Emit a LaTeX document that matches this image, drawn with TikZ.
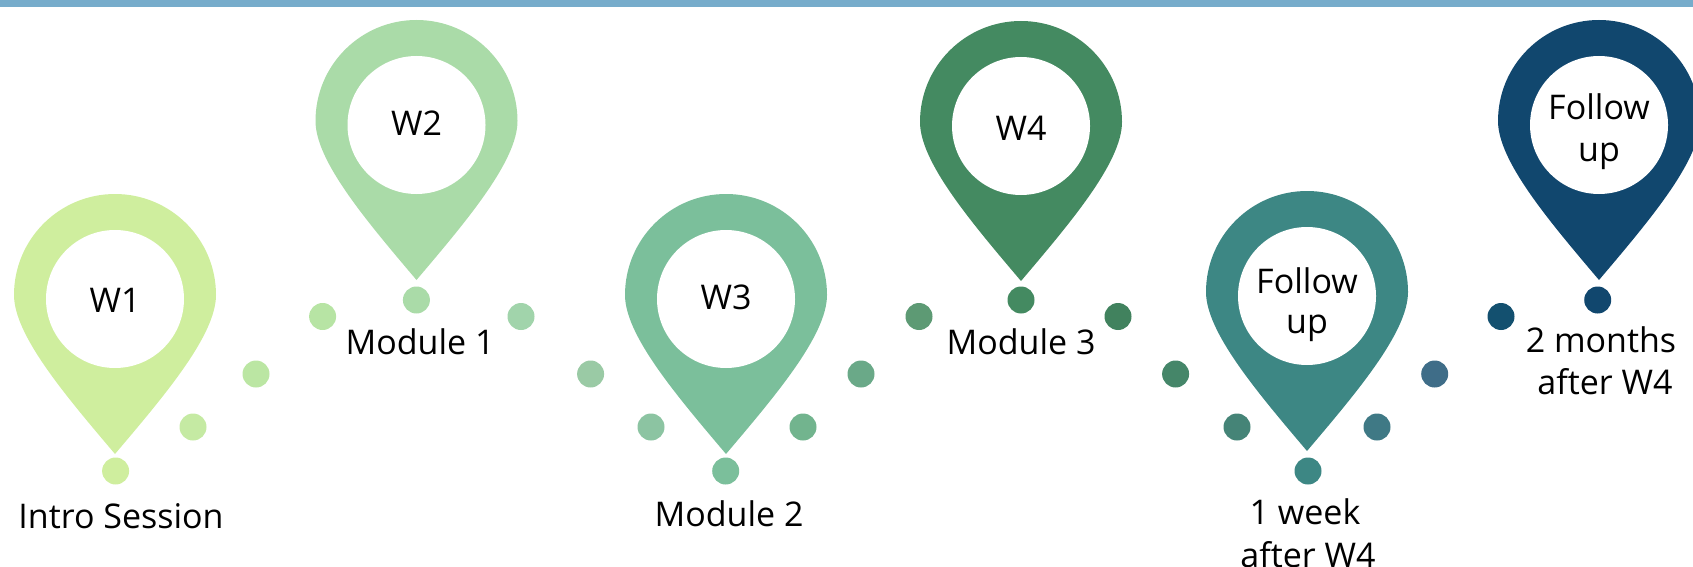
\documentclass[tikz,border=0pt]{standalone}
\usepackage{fontspec}
\setmainfont{Open Sans}
\definecolor{barblue}{HTML}{77ACCB}
\definecolor{cA}{HTML}{CFEE9E}
\definecolor{cB}{HTML}{AADBA8}
\definecolor{cC}{HTML}{7BBF9B}
\definecolor{cD}{HTML}{448A61}
\definecolor{cE}{HTML}{3D8784}
\definecolor{cF}{HTML}{11476E}
\definecolor{d2}{HTML}{C5EAA3}
\definecolor{d3}{HTML}{BBE6A3}
\definecolor{d4}{HTML}{B7E4A4}
\definecolor{d6}{HTML}{A1D4AB}
\definecolor{d7}{HTML}{9ACAA5}
\definecolor{d8}{HTML}{8CC4A2}
\definecolor{d10}{HTML}{72B48E}
\definecolor{d11}{HTML}{6AA988}
\definecolor{d12}{HTML}{5D9A74}
\definecolor{d14}{HTML}{41825E}
\definecolor{d15}{HTML}{458669}
\definecolor{d16}{HTML}{458477}
\definecolor{d18}{HTML}{3F7985}
\definecolor{d19}{HTML}{3F6D88}
\definecolor{d20}{HTML}{13506F}
\begin{document}
\begin{tikzpicture}[x=1pt,y=-1pt,
  dot/.style={circle,inner sep=0pt,minimum size=27pt},
  lbl/.style={anchor=base,inner sep=0pt,font=\fontsize{34}{41}\selectfont},
  pinshape/.pic={
    \fill[pic actions] (0,159) .. controls (-50,100) and (-101,40) .. (-101,0)
      arc[start angle=180,end angle=360,radius=101]
      .. controls (101,40) and (50,100) .. (0,159) -- cycle;
    \fill[white] (0,4) circle[radius=69];
  }]
\useasboundingbox (0,0) rectangle (1693,567);
\fill[barblue] (0,0) rectangle (1693,7.5);
% pins
\pic[fill=cA] (p1) at (115,295) {pinshape};
\pic[fill=cB] (p2) at (416.5,121) {pinshape};
\pic[fill=cC] (p3) at (726,295) {pinshape};
\pic[fill=cD] (p4) at (1021,122) {pinshape};
\pic[fill=cE] (p5) at (1307,292) {pinshape};
\pic[fill=cF] (p6) at (1599,121) {pinshape};
% pin texts
\node[lbl] (t1) at (115,312) {W1};
\node[lbl] (t2) at (416.5,135.5) {W2};
\node[lbl] (t3) at (726,309) {W3};
\node[lbl] (t4) at (1021,140) {W4};
\node[lbl] (t5a) at (1307,293) {Follow};
\node[lbl] (t5b) at (1307,333) {up};
\node[lbl] (t6a) at (1599,120) {Follow};
\node[lbl] (t6b) at (1599,161) {up};
% dots
\node[dot,fill=cA] (d1) at (115.6,471) {};
\node[dot,fill=d2] (d2) at (193,427) {};
\node[dot,fill=d3] (d3) at (256,374) {};
\node[dot,fill=d4] (d4) at (322.6,316.5) {};
\node[dot,fill=cB] (d5) at (416.4,300) {};
\node[dot,fill=d6] (d6) at (521,316.5) {};
\node[dot,fill=d7] (d7) at (590.6,374) {};
\node[dot,fill=d8] (d8) at (651,427) {};
\node[dot,fill=cC] (d9) at (725.7,471) {};
\node[dot,fill=d10] (d10) at (803,427) {};
\node[dot,fill=d11] (d11) at (861,374) {};
\node[dot,fill=d12] (d12) at (919,316.5) {};
\node[dot,fill=cD] (d13) at (1021,300) {};
\node[dot,fill=d14] (d14) at (1118,316.5) {};
\node[dot,fill=d15] (d15) at (1175.6,374) {};
\node[dot,fill=d16] (d16) at (1237,427) {};
\node[dot,fill=cE] (d17) at (1308,471) {};
\node[dot,fill=d18] (d18) at (1377,427) {};
\node[dot,fill=d19] (d19) at (1434.7,374) {};
\node[dot,fill=d20] (d20) at (1501,316.5) {};
\node[dot,fill=cF] (d21) at (1597.7,300) {};
% labels
\node[lbl] (l1) at (121,528) {Intro Session};
\node[lbl] (l2) at (420,354) {Module 1};
\node[lbl] (l3) at (729,526) {Module 2};
\node[lbl] (l4) at (1021,354) {Module 3};
\node[lbl] (l5a) at (1305,524) {1 week};
\node[lbl] (l5b) at (1308,567) {after W4};
\node[lbl] (l6a) at (1601,352.6) {2 months};
\node[lbl] (l6b) at (1605,394) {after W4};
\end{tikzpicture}
\end{document}
